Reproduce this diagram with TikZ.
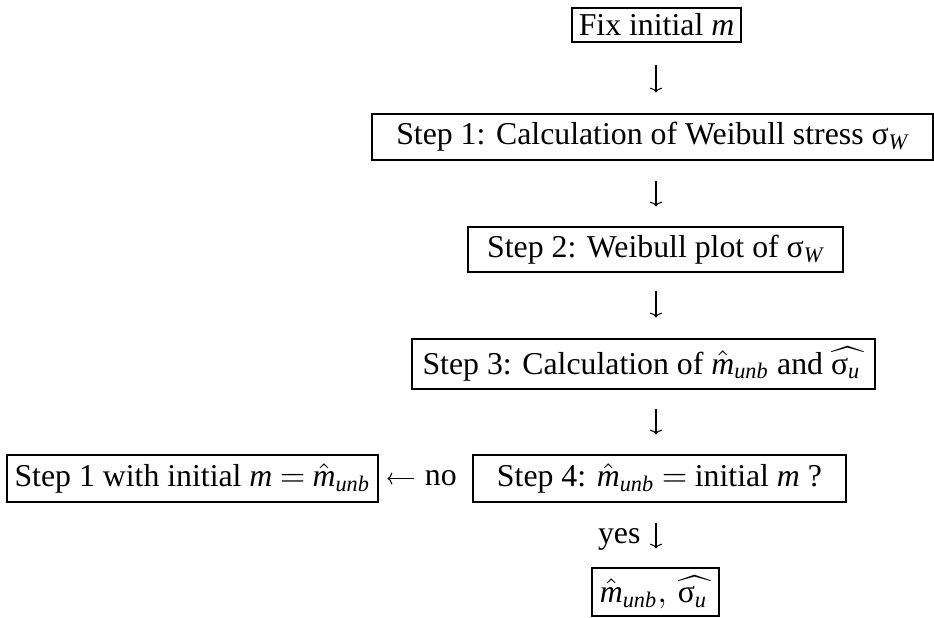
\documentclass[tikz,border=0pt]{standalone}
\usepackage{amsmath}
\usepackage{fontspec}
\setmainfont{Liberation Serif}
\usetikzlibrary{arrows.meta}
\newdimen\pxu \pxu=0.3333pt
\thickmuskip=4mu plus 2mu
\newcommand\mhat{\hat{\textit{m}}_{\textit{unb}}}
\newcommand\shat{\widehat{\text{σ}_{\textit{u}}\mkern2mu}}
\begin{document}
\begin{tikzpicture}[x=0.3333pt,y=-0.3333pt,
  box/.style={draw,line width=0.35pt,inner sep=0pt,align=center,font=\fontsize{10.6pt}{13pt}\selectfont},
  lbl/.style={inner sep=0pt,font=\fontsize{10.6pt}{13pt}\selectfont},
  arr/.style={line width=0.35pt,-{Computer Modern Rightarrow[length=1.6pt,width=4pt]}}]
\useasboundingbox (0,0) rectangle (934,617);
\node[box,minimum width=169\pxu,minimum height=34\pxu] (fix) at (656.5,25) {Fix initial \textit{m}};
\node[box,minimum width=561\pxu,minimum height=46\pxu] (s1) at (652.5,137) {Step 1: Calculation of Weibull stress $\text{σ}_{\textit{W}}$};
\node[box,minimum width=375\pxu,minimum height=45\pxu] (s2) at (655.5,249.5) {Step 2: Weibull plot of $\text{σ}_{\textit{W}}$};
\node[box,minimum width=463\pxu,minimum height=50\pxu] (s3) at (643.5,364) {Step 3: Calculation of $\mhat$ and $\shat$};
\node[box,minimum width=373\pxu,minimum height=47\pxu] (s4) at (659.5,478.5) {Step 4: $\mhat = {}$initial \textit{m} ?};
\node[box,minimum width=371\pxu,minimum height=47\pxu] (left) at (192.5,478.5) {Step 1 with initial $\textit{m} = \mhat$};
\node[box,minimum width=127\pxu,minimum height=48\pxu] (fin) at (655.5,592) {$\mhat,\, \shat$};
\coordinate (ax) at (656,0);
\draw[arr,shorten <=22\pxu,shorten >=21\pxu] (fix.south -| ax) -- (s1.north -| ax);
\draw[arr,shorten <=20\pxu,shorten >=20\pxu] (s1.south -| ax) -- (s2.north -| ax);
\draw[arr,shorten <=18\pxu,shorten >=21\pxu] (s2.south -| ax) -- (s3.north -| ax);
\draw[arr,shorten <=19\pxu,shorten >=20\pxu] (s3.south -| ax) -- (s4.north -| ax);
\draw[arr,shorten <=20\pxu,shorten >=19\pxu] (s4.south -| ax) -- node[lbl,left=15\pxu,yshift=-4\pxu] {yes} (fin.north -| ax);
\draw[arr,shorten <=58\pxu,shorten >=9\pxu] (s4.west) -- node[lbl,pos=0.337] {no} (left.east);
\end{tikzpicture}
\end{document}
